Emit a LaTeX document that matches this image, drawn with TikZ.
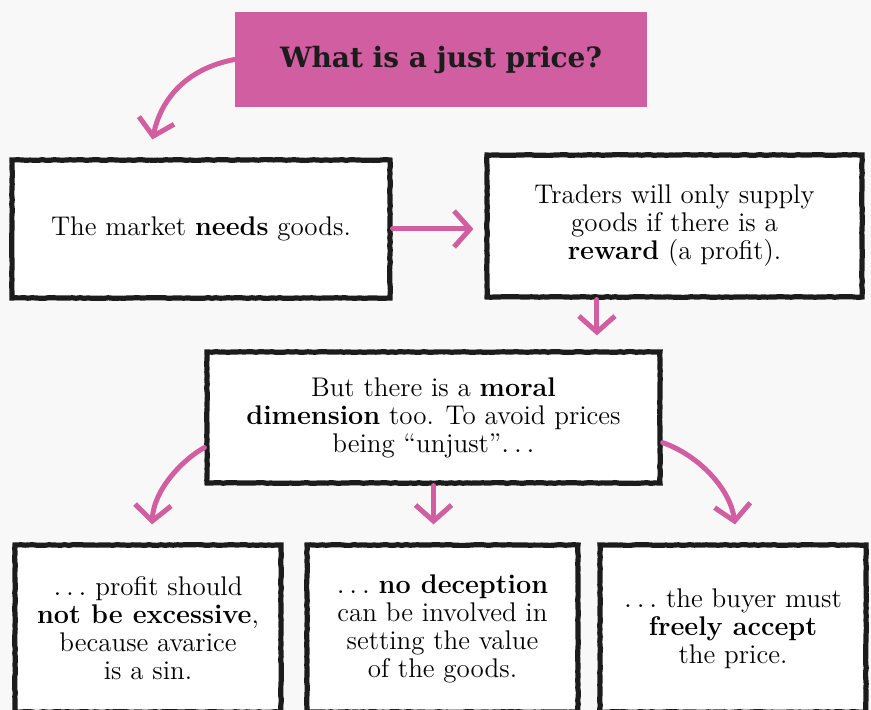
\documentclass[tikz,border=0pt]{standalone}
\usepackage{fontspec}
\newfontfamily\headfont{DejaVu Serif}
\usetikzlibrary{arrows.meta,calc,decorations.pathmorphing}

\definecolor{jpink}{RGB}{209,94,160}
\definecolor{jback}{RGB}{248,248,248}
\definecolor{jink}{RGB}{28,28,28}

\tikzset{
  box/.style={draw=jink, line width=2.6pt, fill=white, align=center, inner sep=0pt,
    font=\fontsize{13.5}{14}\selectfont,
    decorate, decoration={random steps, segment length=2pt, amplitude=0.2pt}},
  flow/.style={draw=jpink, line width=2.5pt, line cap=round,
    -{Straight Barb[length=8pt, width=18pt]}}
}
\newcommand{\trail}{$\ldots$}

\begin{document}
\begin{tikzpicture}[x=0.5pt, y=-0.5pt]

	% page
	\fill[jback] (0,0) rectangle (871,710);
	\clip (0,0) rectangle (871,710);

	% title
	\node[fill=jpink, minimum width=206pt, minimum height=47.5pt, text=jink,
	  font=\headfont\bfseries\fontsize{14}{16}\selectfont] (title) at (441,59.5)
	  {What is a just price?};

	% boxes
	\node[box, minimum width=189pt, minimum height=69pt] (A) at (201,229)
	  {The market \textbf{needs} goods.};
	\node[box, minimum width=187.5pt, minimum height=71pt] (B) at (674.5,226)
	  {Traders will only supply\\goods if there is a\\\textbf{reward} (a profit).};
	\node[box, minimum width=226.5pt, minimum height=65.5pt] (C) at (433.5,417.5)
	  {But there is a \textbf{moral}\\\textbf{dimension} too. To avoid prices\\being ``unjust''\trail};
	\node[box, minimum width=133pt, minimum height=83.5pt] (D) at (148,628.5)
	  {\trail\ profit should\\\textbf{not be excessive},\\because avarice\\is a sin.};
	\node[box, minimum width=135.5pt, minimum height=83.5pt] (E) at (442.5,628.5)
	  {\trail\ \textbf{no deception}\\can be involved in\\setting the value\\of the goods.};
	\node[box, minimum width=133pt, minimum height=83.5pt] (F) at (733,628.5)
	  {\trail\ the buyer must\\\textbf{freely accept}\\the price.};

	% arrow ends
	\coordinate (tA) at ($(A.north west)+(143,-18)$);
	\coordinate (sB) at ($(B.south west)!0.296!(B.south east)$);
	\coordinate (sCl) at ($(C.south west)+(0,-38)$);
	\coordinate (sCr) at ($(C.south east)+(0,-43)$);

	% arrows
	\draw[flow] (title.west) .. controls (190,68) and (162,95) .. (tA);
	\draw[flow, shorten >=5.5pt] (A.east) -- (A.east -| B.west);
	\draw[flow, shorten >=7pt] (sB) -- (sB |- C.north);
	\draw[flow] (sCl) .. controls (185,458) and (154,488) .. ($(D.north)+(4,-18)$);
	\draw[flow, shorten >=9pt] (C.south) -- (C.south |- E.north);
	\draw[flow] (sCr) .. controls (698,455) and (730,488) .. ($(F.north)+(2,-18)$);

\end{tikzpicture}
\end{document}
